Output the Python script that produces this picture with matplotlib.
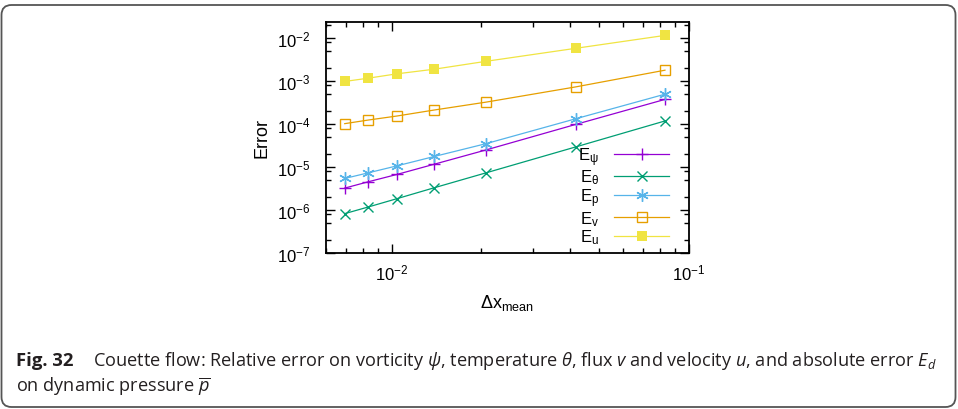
import numpy as np
import matplotlib.pyplot as plt
from matplotlib.patches import FancyBboxPatch
from matplotlib.transforms import IdentityTransform
from matplotlib.ticker import LogLocator, NullFormatter

plt.rc('font', family='Liberation Sans', size=12)
plt.rc('mathtext', fontset='custom', rm='Liberation Sans', it='Open Sans:italic', bf='Open Sans:bold')
plt.rc('axes', unicode_minus=False)

# mean mesh size
dx = [0.00694, 0.00833, 0.0104, 0.0139, 0.0208, 0.0417, 0.0833]

# errors
err_psi = [3.25e-6, 4.56e-6, 6.75e-6, 1.17e-5, 2.52e-5, 9.9e-5, 3.78e-4]
err_theta = [8.26e-7, 1.18e-6, 1.84e-6, 3.31e-6, 7.38e-6, 2.96e-5, 1.19e-4]
err_p = [5.45e-6, 7.37e-6, 1.07e-5, 1.77e-5, 3.53e-5, 1.34e-4, 5.0e-4]
err_v = [1.03e-4, 1.25e-4, 1.55e-4, 2.14e-4, 3.27e-4, 7.4e-4, 1.81e-3]
err_u = [9.9e-4, 1.18e-3, 1.49e-3, 1.91e-3, 2.92e-3, 5.86e-3, 1.17e-2]

fig = plt.figure(figsize=(9.58, 4.10), dpi=100)
ax = fig.add_axes([326/958, 1-254/410, (688.5-326)/958, (254-22.7)/410])

lw = 0.9
ax.plot(dx, err_psi, color='#9400d3', lw=lw, marker='+', ms=9, mew=1.0, label=r'$\mathrm{E}_{\mathrm{\psi}}$')
ax.plot(dx, err_theta, color='#009e73', lw=lw, marker='x', ms=7, mew=1.0, label=r'$\mathrm{E}_{\mathrm{\theta}}$')
ax.plot(dx, err_p, color='#56b4e9', lw=lw, marker=(6, 2, 0), ms=9, mew=1.0, label=r'$\mathrm{E}_{\mathrm{p}}$')
ax.plot(dx, err_v, color='#e69f00', lw=lw, marker='s', ms=7.5, mfc='none', mew=1.0, label=r'$\mathrm{E}_{\mathrm{v}}$')
ax.plot(dx, err_u, color='#f0e442', lw=lw, marker='s', ms=7.5, mew=0, label=r'$\mathrm{E}_{\mathrm{u}}$')

ax.set_xscale('log')
ax.set_yscale('log')
ax.set_xlim(0.006, 0.1)
ax.set_ylim(1e-7, 2.44e-2)
ax.yaxis.set_major_locator(LogLocator(base=10, numticks=20))
ax.yaxis.set_minor_locator(LogLocator(base=10, subs=(2, 5, 8), numticks=20))
ax.yaxis.set_minor_formatter(NullFormatter())
ax.xaxis.set_minor_formatter(NullFormatter())

ax.tick_params(which='both', direction='in', top=True, right=True, width=1.0)
ax.tick_params(which='major', length=6.5)
ax.tick_params(which='minor', length=3.5)
ax.tick_params(axis='y', pad=11)
ax.tick_params(axis='x', pad=7)
for s in ax.spines.values():
    s.set_linewidth(1.3)

ax.set_ylabel('Error', labelpad=5, size=13)
ax.set_xlabel(r'Δx$_{\mathregular{mean}}$', labelpad=7, size=13)

ax.legend(loc='lower right', bbox_to_anchor=(0.965, 0.0), frameon=False, markerfirst=False,
          handlelength=3.3, handletextpad=0.9, labelspacing=0.0, borderaxespad=0, fontsize=12)

# caption box
box = FancyBboxPatch((1.5, 2), 954, 402, boxstyle='round,pad=0,rounding_size=10',
                     transform=IdentityTransform(), fc='none', ec='#555555', lw=1.3)
fig.patches.append(box)

cap_color = '#231f20'
fig.text(16/958, 1-366/410, 'Fig. 32', family='Open Sans', weight='bold', size=13.3, color=cap_color, va='baseline')
fig.text(93/958, 1-366/410,
         r'Couette flow: Relative error on vorticity $\psi$, temperature $\theta$, flux $v$ and velocity $u$, and absolute error $E_d$',
         family='Open Sans', size=13.1, color=cap_color, va='baseline')
fig.text(16/958, 1-392/410, r'on dynamic pressure $\overline{p}$',
         family='Open Sans', size=13.1, color=cap_color, va='baseline')

fig.savefig('out.png')
